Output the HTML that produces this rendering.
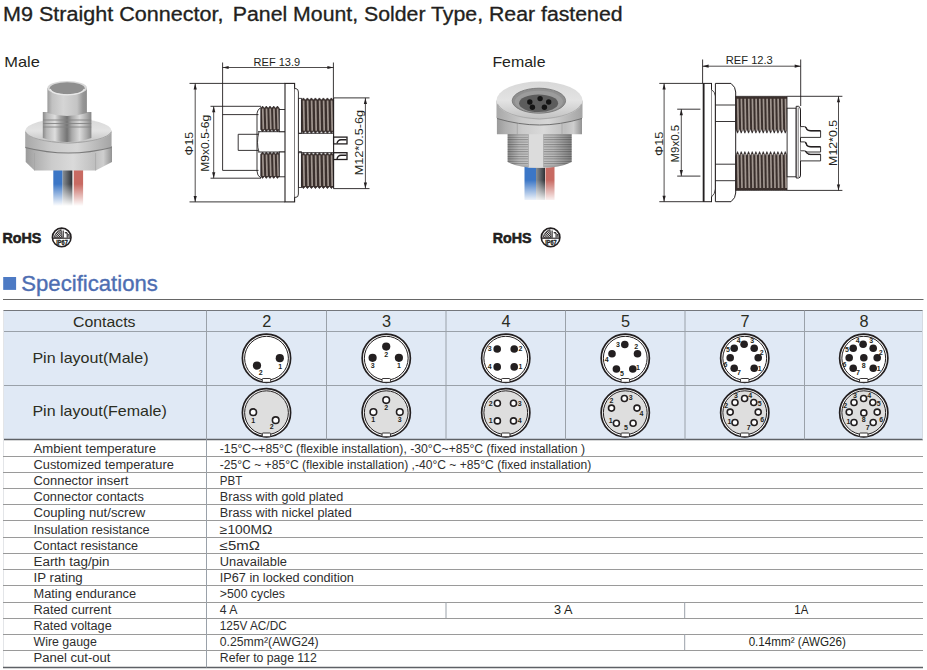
<!DOCTYPE html>
<html><head><meta charset="utf-8"><title>M9 Straight Connector</title>
<style>
html,body{margin:0;padding:0;background:#fff;}
body{width:927px;height:670px;overflow:hidden;font-family:"Liberation Sans", sans-serif;}
svg{display:block;}
text{font-family:"Liberation Sans", sans-serif;}
</style></head><body>
<svg width="927" height="670" viewBox="0 0 927 670">
<text x="3.0" y="20.5" font-size="19.5" fill="#231f20" font-weight="normal" text-anchor="start" textLength="220.4" lengthAdjust="spacingAndGlyphs" stroke="#231f20" stroke-width="0.3">M9 Straight Connector,</text>
<text x="232.8" y="20.5" font-size="19.5" fill="#231f20" font-weight="normal" text-anchor="start" textLength="389.8" lengthAdjust="spacingAndGlyphs" stroke="#231f20" stroke-width="0.3">Panel Mount, Solder Type, Rear fastened</text>
<text x="4.3" y="66.8" font-size="14.8" fill="#231f20" font-weight="normal" text-anchor="start" textLength="35.6" lengthAdjust="spacingAndGlyphs" >Male</text>
<text x="492.4" y="66.8" font-size="14.8" fill="#231f20" font-weight="normal" text-anchor="start" textLength="53.1" lengthAdjust="spacingAndGlyphs" >Female</text>
<rect x="3.2" y="277" width="12.9" height="12.9" fill="#4d7ac4" stroke="none" stroke-width="1" />
<text x="21.3" y="290.6" font-size="21.6" fill="#4e6eb2" font-weight="normal" text-anchor="start" textLength="136.5" lengthAdjust="spacingAndGlyphs" stroke="#4e6eb2" stroke-width="0.35">Specifications</text>
<line x1="3" y1="299.5" x2="923.5" y2="299.5" stroke="#666666" stroke-width="1"/>
<rect x="3" y="310.5" width="920" height="129" fill="#e0e9f5" stroke="none" stroke-width="1" />
<line x1="3" y1="310.5" x2="923" y2="310.5" stroke="#74777c" stroke-width="1"/>
<line x1="3" y1="331.5" x2="923" y2="331.5" stroke="#9aa1a9" stroke-width="1"/>
<line x1="3" y1="385.5" x2="923" y2="385.5" stroke="#9aa1a9" stroke-width="1"/>
<line x1="3" y1="439.5" x2="923" y2="439.5" stroke="#5e6166" stroke-width="1.3"/>
<line x1="206.5" y1="310.5" x2="206.5" y2="439.5" stroke="#9aa1a9" stroke-width="1"/>
<line x1="326.5" y1="310.5" x2="326.5" y2="439.5" stroke="#9aa1a9" stroke-width="1"/>
<line x1="446" y1="310.5" x2="446" y2="439.5" stroke="#9aa1a9" stroke-width="1"/>
<line x1="565.5" y1="310.5" x2="565.5" y2="439.5" stroke="#9aa1a9" stroke-width="1"/>
<line x1="685" y1="310.5" x2="685" y2="439.5" stroke="#9aa1a9" stroke-width="1"/>
<line x1="804.5" y1="310.5" x2="804.5" y2="439.5" stroke="#9aa1a9" stroke-width="1"/>
<line x1="3.5" y1="310.5" x2="3.5" y2="667" stroke="#e3e5e8" stroke-width="1"/>
<line x1="922.5" y1="310.5" x2="922.5" y2="439.5" stroke="#d5dae2" stroke-width="1"/>
<text x="73.0" y="327.3" font-size="15.5" fill="#2b2d22" font-weight="normal" text-anchor="start" textLength="62.5" lengthAdjust="spacingAndGlyphs" >Contacts</text>
<text x="32.4" y="362.8" font-size="14.6" fill="#2b2d22" font-weight="normal" text-anchor="start" textLength="116.1" lengthAdjust="spacingAndGlyphs" >Pin layout(Male)</text>
<text x="32.4" y="416.2" font-size="14.6" fill="#2b2d22" font-weight="normal" text-anchor="start" textLength="134.4" lengthAdjust="spacingAndGlyphs" >Pin layout(Female)</text>
<text x="266.8" y="327.2" font-size="16.3" fill="#2b2d22" font-weight="normal" text-anchor="middle" >2</text>
<text x="386.6" y="327.2" font-size="16.3" fill="#2b2d22" font-weight="normal" text-anchor="middle" >3</text>
<text x="506.1" y="327.2" font-size="16.3" fill="#2b2d22" font-weight="normal" text-anchor="middle" >4</text>
<text x="625.5" y="327.2" font-size="16.3" fill="#2b2d22" font-weight="normal" text-anchor="middle" >5</text>
<text x="745.0" y="327.2" font-size="16.3" fill="#2b2d22" font-weight="normal" text-anchor="middle" >7</text>
<text x="864.0" y="327.2" font-size="16.3" fill="#2b2d22" font-weight="normal" text-anchor="middle" >8</text>
<line x1="3" y1="456.5" x2="923" y2="456.5" stroke="#9a9a9a" stroke-width="1"/>
<line x1="3" y1="472.5" x2="923" y2="472.5" stroke="#9a9a9a" stroke-width="1"/>
<line x1="3" y1="488.5" x2="923" y2="488.5" stroke="#9a9a9a" stroke-width="1"/>
<line x1="3" y1="504.5" x2="923" y2="504.5" stroke="#9a9a9a" stroke-width="1"/>
<line x1="3" y1="520.5" x2="923" y2="520.5" stroke="#9a9a9a" stroke-width="1"/>
<line x1="3" y1="537.5" x2="923" y2="537.5" stroke="#9a9a9a" stroke-width="1"/>
<line x1="3" y1="553.5" x2="923" y2="553.5" stroke="#9a9a9a" stroke-width="1"/>
<line x1="3" y1="569.5" x2="923" y2="569.5" stroke="#9a9a9a" stroke-width="1"/>
<line x1="3" y1="585.5" x2="923" y2="585.5" stroke="#9a9a9a" stroke-width="1"/>
<line x1="3" y1="602.5" x2="923" y2="602.5" stroke="#9a9a9a" stroke-width="1"/>
<line x1="3" y1="618.5" x2="923" y2="618.5" stroke="#9a9a9a" stroke-width="1"/>
<line x1="3" y1="634.5" x2="923" y2="634.5" stroke="#9a9a9a" stroke-width="1"/>
<line x1="3" y1="650.5" x2="923" y2="650.5" stroke="#9a9a9a" stroke-width="1"/>
<line x1="3" y1="667.5" x2="923" y2="667.5" stroke="#5e6166" stroke-width="1.3"/>
<line x1="206.5" y1="439.5" x2="206.5" y2="667.5" stroke="#9aa1a9" stroke-width="1"/>
<line x1="446" y1="602" x2="446" y2="618" stroke="#9aa1a9" stroke-width="1"/>
<line x1="684.7" y1="602" x2="684.7" y2="618" stroke="#9aa1a9" stroke-width="1"/>
<line x1="684.7" y1="634" x2="684.7" y2="650" stroke="#9aa1a9" stroke-width="1"/>
<text x="33.5" y="453.0" font-size="12.5" fill="#2e2e2e" font-weight="normal" text-anchor="start" textLength="122.5" lengthAdjust="spacingAndGlyphs" >Ambient temperature</text>
<text x="33.5" y="469.1" font-size="12.5" fill="#2e2e2e" font-weight="normal" text-anchor="start" textLength="140.3" lengthAdjust="spacingAndGlyphs" >Customized temperature</text>
<text x="33.5" y="485.2" font-size="12.5" fill="#2e2e2e" font-weight="normal" text-anchor="start" textLength="94.8" lengthAdjust="spacingAndGlyphs" >Connector insert</text>
<text x="33.5" y="501.3" font-size="12.5" fill="#2e2e2e" font-weight="normal" text-anchor="start" textLength="110.3" lengthAdjust="spacingAndGlyphs" >Connector contacts</text>
<text x="33.5" y="517.4" font-size="12.5" fill="#2e2e2e" font-weight="normal" text-anchor="start" textLength="111.7" lengthAdjust="spacingAndGlyphs" >Coupling nut/screw</text>
<text x="33.5" y="533.5" font-size="12.5" fill="#2e2e2e" font-weight="normal" text-anchor="start" textLength="116.2" lengthAdjust="spacingAndGlyphs" >Insulation resistance</text>
<text x="33.5" y="549.6" font-size="12.5" fill="#2e2e2e" font-weight="normal" text-anchor="start" textLength="104.5" lengthAdjust="spacingAndGlyphs" >Contact resistance</text>
<text x="33.5" y="565.7" font-size="12.5" fill="#2e2e2e" font-weight="normal" text-anchor="start" textLength="76.0" lengthAdjust="spacingAndGlyphs" >Earth tag/pin</text>
<text x="33.5" y="581.8" font-size="12.5" fill="#2e2e2e" font-weight="normal" text-anchor="start" textLength="49.2" lengthAdjust="spacingAndGlyphs" >IP rating</text>
<text x="33.5" y="597.9" font-size="12.5" fill="#2e2e2e" font-weight="normal" text-anchor="start" textLength="102.6" lengthAdjust="spacingAndGlyphs" >Mating endurance</text>
<text x="33.5" y="614.0" font-size="12.5" fill="#2e2e2e" font-weight="normal" text-anchor="start" textLength="77.7" lengthAdjust="spacingAndGlyphs" >Rated current</text>
<text x="33.5" y="630.1" font-size="12.5" fill="#2e2e2e" font-weight="normal" text-anchor="start" textLength="78.2" lengthAdjust="spacingAndGlyphs" >Rated voltage</text>
<text x="33.5" y="646.2" font-size="12.5" fill="#2e2e2e" font-weight="normal" text-anchor="start" textLength="63.3" lengthAdjust="spacingAndGlyphs" >Wire gauge</text>
<text x="33.5" y="662.3" font-size="12.5" fill="#2e2e2e" font-weight="normal" text-anchor="start" textLength="77.0" lengthAdjust="spacingAndGlyphs" >Panel cut-out</text>
<text x="219.8" y="453.0" font-size="12.5" fill="#2e2e2e" font-weight="normal" text-anchor="start" textLength="365.2" lengthAdjust="spacingAndGlyphs" >-15°C~+85°C (flexible installation), -30°C~+85°C (fixed installation )</text>
<text x="219.8" y="469.1" font-size="12.5" fill="#2e2e2e" font-weight="normal" text-anchor="start" textLength="371.5" lengthAdjust="spacingAndGlyphs" >-25°C ~ +85°C (flexible installation) ,-40°C ~ +85°C (fixed installation)</text>
<text x="219.8" y="485.2" font-size="12.5" fill="#2e2e2e" font-weight="normal" text-anchor="start" textLength="22.5" lengthAdjust="spacingAndGlyphs" >PBT</text>
<text x="219.8" y="501.3" font-size="12.5" fill="#2e2e2e" font-weight="normal" text-anchor="start" textLength="123.4" lengthAdjust="spacingAndGlyphs" >Brass with gold plated</text>
<text x="219.8" y="517.4" font-size="12.5" fill="#2e2e2e" font-weight="normal" text-anchor="start" textLength="132.1" lengthAdjust="spacingAndGlyphs" >Brass with nickel plated</text>
<text x="219.8" y="533.5" font-size="12.5" fill="#2e2e2e" font-weight="normal" text-anchor="start" textLength="52.5" lengthAdjust="spacingAndGlyphs" >≥100MΩ</text>
<text x="219.8" y="549.6" font-size="12.5" fill="#2e2e2e" font-weight="normal" text-anchor="start" textLength="40.0" lengthAdjust="spacingAndGlyphs" >≤5mΩ</text>
<text x="219.8" y="565.7" font-size="12.5" fill="#2e2e2e" font-weight="normal" text-anchor="start" textLength="67.1" lengthAdjust="spacingAndGlyphs" >Unavailable</text>
<text x="219.8" y="581.8" font-size="12.5" fill="#2e2e2e" font-weight="normal" text-anchor="start" textLength="134.1" lengthAdjust="spacingAndGlyphs" >IP67 in locked condition</text>
<text x="219.8" y="597.9" font-size="12.5" fill="#2e2e2e" font-weight="normal" text-anchor="start" textLength="65.2" lengthAdjust="spacingAndGlyphs" >&gt;500 cycles</text>
<text x="219.8" y="614.0" font-size="12.5" fill="#2e2e2e" font-weight="normal" text-anchor="start" textLength="17.7" lengthAdjust="spacingAndGlyphs" >4 A</text>
<text x="219.8" y="630.1" font-size="12.5" fill="#2e2e2e" font-weight="normal" text-anchor="start" textLength="66.9" lengthAdjust="spacingAndGlyphs" >125V AC/DC</text>
<text x="219.8" y="646.2" font-size="12.5" fill="#2e2e2e" font-weight="normal" text-anchor="start" textLength="98.8" lengthAdjust="spacingAndGlyphs" >0.25mm²(AWG24)</text>
<text x="219.8" y="662.3" font-size="12.5" fill="#2e2e2e" font-weight="normal" text-anchor="start" textLength="97.1" lengthAdjust="spacingAndGlyphs" >Refer to page 112</text>
<text x="563.2" y="614.0" font-size="12.5" fill="#231f20" font-weight="normal" text-anchor="middle" textLength="18.4" lengthAdjust="spacingAndGlyphs" >3 A</text>
<text x="801.3" y="614.0" font-size="12.5" fill="#231f20" font-weight="normal" text-anchor="middle" textLength="13.9" lengthAdjust="spacingAndGlyphs" >1A</text>
<text x="797.3" y="646.2" font-size="12.5" fill="#231f20" font-weight="normal" text-anchor="middle" textLength="97.3" lengthAdjust="spacingAndGlyphs" >0.14mm² (AWG26)</text>
<circle cx="266.5" cy="358.2" r="24.1" fill="#fff" stroke="#231f20" stroke-width="1.7"/>
<circle cx="266.5" cy="358.2" r="21.9" fill="#fff" stroke="#231f20" stroke-width="1"/>
<rect x="262.3" y="378.5" width="8.4" height="3.8" rx="0.8" fill="#fff" stroke="#231f20" stroke-width="0.9"/>
<circle cx="279.8" cy="358.2" r="4.1" fill="#231f20"/>
<text x="280.2" y="368.7" font-size="7" font-weight="bold" fill="#231f20" text-anchor="middle">1</text>
<circle cx="257.0" cy="365.6" r="4.1" fill="#231f20"/>
<text x="260.7" y="374.9" font-size="7" font-weight="bold" fill="#231f20" text-anchor="middle">2</text>
<circle cx="266.5" cy="412.7" r="24.1" fill="#fff" stroke="#231f20" stroke-width="1.7"/>
<circle cx="266.5" cy="412.7" r="21.9" fill="#dedede" stroke="#231f20" stroke-width="1"/>
<rect x="262.3" y="433.0" width="8.4" height="3.8" rx="0.8" fill="#fff" stroke="#231f20" stroke-width="0.9"/>
<circle cx="253.2" cy="412.2" r="3.30" fill="#fff" stroke="#231f20" stroke-width="1.6"/>
<text x="253.2" y="422.9" font-size="7" font-weight="bold" fill="#231f20" text-anchor="middle">1</text>
<circle cx="275.7" cy="420.2" r="3.30" fill="#fff" stroke="#231f20" stroke-width="1.6"/>
<text x="271.7" y="429.0" font-size="7" font-weight="bold" fill="#231f20" text-anchor="middle">2</text>
<circle cx="386.25" cy="358.2" r="24.1" fill="#fff" stroke="#231f20" stroke-width="1.7"/>
<circle cx="386.25" cy="358.2" r="21.9" fill="#fff" stroke="#231f20" stroke-width="1"/>
<rect x="382.05" y="378.5" width="8.4" height="3.8" rx="0.8" fill="#fff" stroke="#231f20" stroke-width="0.9"/>
<circle cx="386.2" cy="346.6" r="4.1" fill="#231f20"/>
<text x="386.2" y="356.9" font-size="7" font-weight="bold" fill="#231f20" text-anchor="middle">2</text>
<circle cx="372.6" cy="357.8" r="4.1" fill="#231f20"/>
<text x="372.6" y="368.1" font-size="7" font-weight="bold" fill="#231f20" text-anchor="middle">3</text>
<circle cx="398.9" cy="357.8" r="4.1" fill="#231f20"/>
<text x="398.9" y="368.1" font-size="7" font-weight="bold" fill="#231f20" text-anchor="middle">1</text>
<circle cx="386.25" cy="412.7" r="24.1" fill="#fff" stroke="#231f20" stroke-width="1.7"/>
<circle cx="386.25" cy="412.7" r="21.9" fill="#dedede" stroke="#231f20" stroke-width="1"/>
<rect x="382.05" y="433.0" width="8.4" height="3.8" rx="0.8" fill="#fff" stroke="#231f20" stroke-width="0.9"/>
<circle cx="386.2" cy="400.1" r="3.30" fill="#fff" stroke="#231f20" stroke-width="1.6"/>
<text x="386.2" y="410.3" font-size="7" font-weight="bold" fill="#231f20" text-anchor="middle">2</text>
<circle cx="373.4" cy="412.1" r="3.30" fill="#fff" stroke="#231f20" stroke-width="1.6"/>
<text x="373.2" y="422.3" font-size="7" font-weight="bold" fill="#231f20" text-anchor="middle">1</text>
<circle cx="399.8" cy="412.1" r="3.30" fill="#fff" stroke="#231f20" stroke-width="1.6"/>
<text x="399.8" y="422.3" font-size="7" font-weight="bold" fill="#231f20" text-anchor="middle">3</text>
<circle cx="505.75" cy="358.2" r="24.1" fill="#fff" stroke="#231f20" stroke-width="1.7"/>
<circle cx="505.75" cy="358.2" r="21.9" fill="#fff" stroke="#231f20" stroke-width="1"/>
<rect x="501.55" y="378.5" width="8.4" height="3.8" rx="0.8" fill="#fff" stroke="#231f20" stroke-width="0.9"/>
<circle cx="497.2" cy="349.0" r="3.8" fill="#231f20"/>
<text x="489.8" y="351.3" font-size="7" font-weight="bold" fill="#231f20" text-anchor="middle">3</text>
<circle cx="514.2" cy="349.0" r="3.8" fill="#231f20"/>
<text x="520.4" y="351.3" font-size="7" font-weight="bold" fill="#231f20" text-anchor="middle">2</text>
<circle cx="497.2" cy="366.9" r="3.8" fill="#231f20"/>
<text x="489.8" y="369.2" font-size="7" font-weight="bold" fill="#231f20" text-anchor="middle">4</text>
<circle cx="514.2" cy="366.9" r="3.8" fill="#231f20"/>
<text x="520.4" y="369.2" font-size="7" font-weight="bold" fill="#231f20" text-anchor="middle">1</text>
<circle cx="505.75" cy="412.7" r="24.1" fill="#fff" stroke="#231f20" stroke-width="1.7"/>
<circle cx="505.75" cy="412.7" r="21.9" fill="#dedede" stroke="#231f20" stroke-width="1"/>
<rect x="501.55" y="433.0" width="8.4" height="3.8" rx="0.8" fill="#fff" stroke="#231f20" stroke-width="0.9"/>
<circle cx="497.4" cy="403.3" r="3.00" fill="#fff" stroke="#231f20" stroke-width="1.6"/>
<text x="490.8" y="405.6" font-size="7" font-weight="bold" fill="#231f20" text-anchor="middle">2</text>
<circle cx="513.5" cy="403.3" r="3.00" fill="#fff" stroke="#231f20" stroke-width="1.6"/>
<text x="519.8" y="405.6" font-size="7" font-weight="bold" fill="#231f20" text-anchor="middle">3</text>
<circle cx="497.4" cy="420.9" r="3.00" fill="#fff" stroke="#231f20" stroke-width="1.6"/>
<text x="490.8" y="423.2" font-size="7" font-weight="bold" fill="#231f20" text-anchor="middle">1</text>
<circle cx="513.5" cy="420.9" r="3.00" fill="#fff" stroke="#231f20" stroke-width="1.6"/>
<text x="519.8" y="423.2" font-size="7" font-weight="bold" fill="#231f20" text-anchor="middle">4</text>
<circle cx="625.25" cy="358.2" r="24.1" fill="#fff" stroke="#231f20" stroke-width="1.7"/>
<circle cx="625.25" cy="358.2" r="21.9" fill="#fff" stroke="#231f20" stroke-width="1"/>
<rect x="621.05" y="378.5" width="8.4" height="3.8" rx="0.8" fill="#fff" stroke="#231f20" stroke-width="0.9"/>
<circle cx="624.8" cy="344.5" r="3.8" fill="#231f20"/>
<text x="618.0" y="346.8" font-size="7" font-weight="bold" fill="#231f20" text-anchor="middle">3</text>
<circle cx="637.5" cy="353.8" r="3.8" fill="#231f20"/>
<text x="636.2" y="348.9" font-size="7" font-weight="bold" fill="#231f20" text-anchor="middle">2</text>
<circle cx="612.0" cy="353.8" r="3.8" fill="#231f20"/>
<text x="606.8" y="361.7" font-size="7" font-weight="bold" fill="#231f20" text-anchor="middle">4</text>
<circle cx="616.4" cy="369.0" r="3.8" fill="#231f20"/>
<text x="622.0" y="376.1" font-size="7" font-weight="bold" fill="#231f20" text-anchor="middle">5</text>
<circle cx="632.8" cy="369.0" r="3.8" fill="#231f20"/>
<text x="638.0" y="369.7" font-size="7" font-weight="bold" fill="#231f20" text-anchor="middle">1</text>
<circle cx="625.25" cy="412.7" r="24.1" fill="#fff" stroke="#231f20" stroke-width="1.7"/>
<circle cx="625.25" cy="412.7" r="21.9" fill="#dedede" stroke="#231f20" stroke-width="1"/>
<rect x="621.05" y="433.0" width="8.4" height="3.8" rx="0.8" fill="#fff" stroke="#231f20" stroke-width="0.9"/>
<circle cx="624.4" cy="398.5" r="3.00" fill="#fff" stroke="#231f20" stroke-width="1.6"/>
<text x="630.8" y="400.0" font-size="7" font-weight="bold" fill="#231f20" text-anchor="middle">3</text>
<circle cx="611.5" cy="408.1" r="3.00" fill="#fff" stroke="#231f20" stroke-width="1.6"/>
<text x="611.5" y="403.3" font-size="7" font-weight="bold" fill="#231f20" text-anchor="middle">2</text>
<circle cx="637.0" cy="408.1" r="3.00" fill="#fff" stroke="#231f20" stroke-width="1.6"/>
<text x="641.5" y="416.0" font-size="7" font-weight="bold" fill="#231f20" text-anchor="middle">4</text>
<circle cx="616.4" cy="423.3" r="3.00" fill="#fff" stroke="#231f20" stroke-width="1.6"/>
<text x="610.8" y="423.2" font-size="7" font-weight="bold" fill="#231f20" text-anchor="middle">1</text>
<circle cx="633.1" cy="423.3" r="3.00" fill="#fff" stroke="#231f20" stroke-width="1.6"/>
<text x="626.0" y="429.6" font-size="7" font-weight="bold" fill="#231f20" text-anchor="middle">5</text>
<circle cx="744.75" cy="358.2" r="24.1" fill="#fff" stroke="#231f20" stroke-width="1.7"/>
<circle cx="744.75" cy="358.2" r="21.9" fill="#fff" stroke="#231f20" stroke-width="1"/>
<rect x="740.55" y="378.5" width="8.4" height="3.8" rx="0.8" fill="#fff" stroke="#231f20" stroke-width="0.9"/>
<circle cx="744.1" cy="344.2" r="3.8" fill="#231f20"/>
<text x="738.6" y="343.3" font-size="7" font-weight="bold" fill="#231f20" text-anchor="middle">4</text>
<circle cx="754.2" cy="348.2" r="3.8" fill="#231f20"/>
<text x="752.1" y="343.3" font-size="7" font-weight="bold" fill="#231f20" text-anchor="middle">3</text>
<circle cx="734.2" cy="348.2" r="3.8" fill="#231f20"/>
<text x="727.9" y="352.1" font-size="7" font-weight="bold" fill="#231f20" text-anchor="middle">5</text>
<circle cx="758.2" cy="357.8" r="3.8" fill="#231f20"/>
<text x="761.8" y="354.5" font-size="7" font-weight="bold" fill="#231f20" text-anchor="middle">2</text>
<circle cx="730.2" cy="357.8" r="3.8" fill="#231f20"/>
<text x="725.5" y="367.3" font-size="7" font-weight="bold" fill="#231f20" text-anchor="middle">6</text>
<circle cx="734.2" cy="368.2" r="3.8" fill="#231f20"/>
<text x="739.0" y="375.3" font-size="7" font-weight="bold" fill="#231f20" text-anchor="middle">7</text>
<circle cx="754.2" cy="368.2" r="3.8" fill="#231f20"/>
<text x="759.8" y="371.3" font-size="7" font-weight="bold" fill="#231f20" text-anchor="middle">1</text>
<circle cx="744.75" cy="412.7" r="24.1" fill="#fff" stroke="#231f20" stroke-width="1.7"/>
<circle cx="744.75" cy="412.7" r="21.9" fill="#dedede" stroke="#231f20" stroke-width="1"/>
<rect x="740.55" y="433.0" width="8.4" height="3.8" rx="0.8" fill="#fff" stroke="#231f20" stroke-width="0.9"/>
<circle cx="744.6" cy="398.5" r="3.00" fill="#fff" stroke="#231f20" stroke-width="1.6"/>
<text x="750.2" y="397.6" font-size="7" font-weight="bold" fill="#231f20" text-anchor="middle">4</text>
<circle cx="735.0" cy="402.5" r="3.00" fill="#fff" stroke="#231f20" stroke-width="1.6"/>
<text x="735.9" y="397.6" font-size="7" font-weight="bold" fill="#231f20" text-anchor="middle">3</text>
<circle cx="753.8" cy="402.5" r="3.00" fill="#fff" stroke="#231f20" stroke-width="1.6"/>
<text x="759.8" y="405.6" font-size="7" font-weight="bold" fill="#231f20" text-anchor="middle">5</text>
<circle cx="730.2" cy="412.1" r="3.00" fill="#fff" stroke="#231f20" stroke-width="1.6"/>
<text x="726.2" y="408.0" font-size="7" font-weight="bold" fill="#231f20" text-anchor="middle">2</text>
<circle cx="758.2" cy="412.1" r="3.00" fill="#fff" stroke="#231f20" stroke-width="1.6"/>
<text x="762.2" y="421.6" font-size="7" font-weight="bold" fill="#231f20" text-anchor="middle">6</text>
<circle cx="735.0" cy="422.5" r="3.00" fill="#fff" stroke="#231f20" stroke-width="1.6"/>
<text x="729.5" y="424.0" font-size="7" font-weight="bold" fill="#231f20" text-anchor="middle">1</text>
<circle cx="754.2" cy="422.5" r="3.00" fill="#fff" stroke="#231f20" stroke-width="1.6"/>
<text x="748.6" y="430.3" font-size="7" font-weight="bold" fill="#231f20" text-anchor="middle">7</text>
<circle cx="863.75" cy="358.2" r="24.1" fill="#fff" stroke="#231f20" stroke-width="1.7"/>
<circle cx="863.75" cy="358.2" r="21.9" fill="#fff" stroke="#231f20" stroke-width="1"/>
<rect x="859.55" y="378.5" width="8.4" height="3.8" rx="0.8" fill="#fff" stroke="#231f20" stroke-width="0.9"/>
<circle cx="863.1" cy="344.2" r="3.8" fill="#231f20"/>
<text x="857.6" y="343.3" font-size="7" font-weight="bold" fill="#231f20" text-anchor="middle">4</text>
<circle cx="873.2" cy="348.2" r="3.8" fill="#231f20"/>
<text x="871.1" y="343.3" font-size="7" font-weight="bold" fill="#231f20" text-anchor="middle">3</text>
<circle cx="853.2" cy="348.2" r="3.8" fill="#231f20"/>
<text x="846.9" y="352.1" font-size="7" font-weight="bold" fill="#231f20" text-anchor="middle">5</text>
<circle cx="877.2" cy="357.8" r="3.8" fill="#231f20"/>
<text x="880.8" y="354.5" font-size="7" font-weight="bold" fill="#231f20" text-anchor="middle">2</text>
<circle cx="849.2" cy="357.8" r="3.8" fill="#231f20"/>
<text x="844.5" y="367.3" font-size="7" font-weight="bold" fill="#231f20" text-anchor="middle">6</text>
<circle cx="853.2" cy="368.2" r="3.8" fill="#231f20"/>
<text x="858.0" y="375.3" font-size="7" font-weight="bold" fill="#231f20" text-anchor="middle">7</text>
<circle cx="873.2" cy="368.2" r="3.8" fill="#231f20"/>
<text x="878.8" y="371.3" font-size="7" font-weight="bold" fill="#231f20" text-anchor="middle">1</text>
<circle cx="863.8" cy="357.8" r="3.8" fill="#231f20"/>
<text x="863.8" y="368.1" font-size="7" font-weight="bold" fill="#231f20" text-anchor="middle">8</text>
<circle cx="863.75" cy="412.7" r="24.1" fill="#fff" stroke="#231f20" stroke-width="1.7"/>
<circle cx="863.75" cy="412.7" r="21.9" fill="#dedede" stroke="#231f20" stroke-width="1"/>
<rect x="859.55" y="433.0" width="8.4" height="3.8" rx="0.8" fill="#fff" stroke="#231f20" stroke-width="0.9"/>
<circle cx="863.6" cy="398.5" r="3.00" fill="#fff" stroke="#231f20" stroke-width="1.6"/>
<text x="869.2" y="397.6" font-size="7" font-weight="bold" fill="#231f20" text-anchor="middle">4</text>
<circle cx="854.0" cy="402.5" r="3.00" fill="#fff" stroke="#231f20" stroke-width="1.6"/>
<text x="854.9" y="397.6" font-size="7" font-weight="bold" fill="#231f20" text-anchor="middle">3</text>
<circle cx="872.8" cy="402.5" r="3.00" fill="#fff" stroke="#231f20" stroke-width="1.6"/>
<text x="878.8" y="405.6" font-size="7" font-weight="bold" fill="#231f20" text-anchor="middle">5</text>
<circle cx="849.2" cy="412.1" r="3.00" fill="#fff" stroke="#231f20" stroke-width="1.6"/>
<text x="845.2" y="408.0" font-size="7" font-weight="bold" fill="#231f20" text-anchor="middle">2</text>
<circle cx="877.2" cy="412.1" r="3.00" fill="#fff" stroke="#231f20" stroke-width="1.6"/>
<text x="881.2" y="421.6" font-size="7" font-weight="bold" fill="#231f20" text-anchor="middle">6</text>
<circle cx="854.0" cy="422.5" r="3.00" fill="#fff" stroke="#231f20" stroke-width="1.6"/>
<text x="848.5" y="424.0" font-size="7" font-weight="bold" fill="#231f20" text-anchor="middle">1</text>
<circle cx="873.2" cy="422.5" r="3.00" fill="#fff" stroke="#231f20" stroke-width="1.6"/>
<text x="867.6" y="430.3" font-size="7" font-weight="bold" fill="#231f20" text-anchor="middle">7</text>
<circle cx="863.8" cy="412.9" r="3.00" fill="#fff" stroke="#231f20" stroke-width="1.6"/>
<text x="863.8" y="422.4" font-size="7" font-weight="bold" fill="#231f20" text-anchor="middle">8</text>
<defs>
<linearGradient id="metal" x1="0" x2="1" y1="0" y2="0">
<stop offset="0" stop-color="#8a8a8a"/><stop offset="0.08" stop-color="#b6b6b6"/><stop offset="0.25" stop-color="#dedede"/>
<stop offset="0.37" stop-color="#a0a0a0"/><stop offset="0.5" stop-color="#747474"/><stop offset="0.6" stop-color="#aaaaaa"/><stop offset="0.76" stop-color="#dadada"/><stop offset="0.9" stop-color="#acacac"/><stop offset="1" stop-color="#868686"/>
</linearGradient>
<linearGradient id="metal2" x1="0" x2="1" y1="0" y2="0">
<stop offset="0" stop-color="#9e9e9e"/><stop offset="0.2" stop-color="#d2d2d2"/><stop offset="0.45" stop-color="#eaeaea"/>
<stop offset="0.7" stop-color="#c8c8c8"/><stop offset="1" stop-color="#909090"/>
</linearGradient>
<linearGradient id="cyl" x1="0" x2="1" y1="0" y2="0">
<stop offset="0" stop-color="#9b9b9b"/><stop offset="0.12" stop-color="#c1c1c1"/><stop offset="0.4" stop-color="#d5d5d5"/>
<stop offset="0.75" stop-color="#c4c4c4"/><stop offset="0.9" stop-color="#969696"/><stop offset="1" stop-color="#8c8c8c"/>
</linearGradient>
<linearGradient id="thr" x1="0" x2="1" y1="0" y2="0">
<stop offset="0" stop-color="#8c8c8c"/><stop offset="0.18" stop-color="#bdbdbd"/><stop offset="0.45" stop-color="#cfcfcf"/>
<stop offset="0.72" stop-color="#b9b9b9"/><stop offset="1" stop-color="#828282"/>
</linearGradient>
<linearGradient id="nut" x1="0" x2="1" y1="0" y2="0">
<stop offset="0" stop-color="#9a9a9a"/><stop offset="0.1" stop-color="#afafaf"/><stop offset="0.3" stop-color="#cbcbcb"/>
<stop offset="0.55" stop-color="#dadada"/><stop offset="0.8" stop-color="#bfbfbf"/><stop offset="0.9" stop-color="#cecece"/><stop offset="1" stop-color="#929292"/>
</linearGradient>
<linearGradient id="rim" x1="0" x2="1" y1="0" y2="0">
<stop offset="0" stop-color="#a8a8a8"/><stop offset="0.3" stop-color="#cacaca"/><stop offset="0.6" stop-color="#d6d6d6"/>
<stop offset="1" stop-color="#a4a4a4"/>
</linearGradient>
<linearGradient id="face" x1="0" x2="0" y1="0" y2="1">
<stop offset="0" stop-color="#d8d8d8"/><stop offset="0.5" stop-color="#e3e3e3"/><stop offset="1" stop-color="#c1c1c1"/>
</linearGradient>
<radialGradient id="insert" cx="0.5" cy="0.5" r="0.6">
<stop offset="0" stop-color="#4a4a4a"/><stop offset="1" stop-color="#2e2e2e"/>
</radialGradient>
<linearGradient id="dwire" x1="0" x2="1" y1="0" y2="0">
<stop offset="0" stop-color="#8a9096"/><stop offset="0.5" stop-color="#5d6166"/><stop offset="1" stop-color="#2f3236"/>
</linearGradient>
<linearGradient id="fade" x1="0" x2="0" y1="0" y2="1">
<stop offset="0" stop-color="#fff" stop-opacity="0"/><stop offset="1" stop-color="#fff" stop-opacity="1"/>
</linearGradient>
<pattern id="hatch" width="1.6" height="1.6" patternUnits="userSpaceOnUse" patternTransform="rotate(45)">
<rect width="1.6" height="0.9" fill="#231f20"/>
</pattern>
<pattern id="hthread" width="4" height="2.4" patternUnits="userSpaceOnUse">
<rect width="4" height="1.0" fill="#000" fill-opacity="0.28"/>
</pattern>
</defs>
<rect x="53.3" y="166" width="9.3" height="40" fill="#3b76c6" stroke="none" stroke-width="1" />
<rect x="62.6" y="166" width="9.8" height="40" fill="url(#dwire)" stroke="none" stroke-width="1" />
<rect x="73.7" y="166" width="9.4" height="40" fill="#c86a62" stroke="none" stroke-width="1" />
<rect x="51" y="184" width="35" height="22" fill="url(#fade)" stroke="none" stroke-width="1" />
<path d="M25.7 146 L112 146 L112 162 L95.6 170.5 L34.5 170.5 L25.7 162 Z" fill="url(#nut)"/>
<path d="M34.5 153 L34.5 170.5 M95.6 153 L95.6 170.5" stroke="#a4a4a4" stroke-width="0.7"/>
<path d="M25.2 130.8 L111.6 130.8 L111.6 147 Q90 153 68.4 153 Q47 153 25.2 147 Z" fill="url(#rim)"/>
<path d="M25.2 147.5 Q47 153 68.4 153 Q90 153 111.6 147.5" fill="none" stroke="#7a7a7a" stroke-width="1.2"/>
<ellipse cx="68.4" cy="130.8" rx="43.2" ry="12.4" fill="url(#face)"/>
<path d="M25.6 132 Q30 141 68.4 143.2 Q106 141 111.2 132" fill="none" stroke="#9a9a9a" stroke-width="0.8"/>
<path d="M42.8 112 L91.4 112 L91.4 138 Q80 142 67 142 Q54 142 42.8 138 Z" fill="url(#metal)"/>
<line x1="43" y1="120" x2="91.2" y2="120" stroke="#858585" stroke-width="0.9"/>
<line x1="43" y1="123.5" x2="91.2" y2="123.5" stroke="#858585" stroke-width="0.9"/>
<line x1="43" y1="127" x2="91.2" y2="127" stroke="#858585" stroke-width="0.9"/>
<path d="M47.4 88 L86.9 88 L86.9 113 Q77 116 67 116 Q57 116 47.4 113 Z" fill="url(#cyl)"/>
<ellipse cx="67.2" cy="88" rx="19.8" ry="7" fill="#d8d8d8"/>
<ellipse cx="67.2" cy="88.3" rx="17.5" ry="6" fill="#8f8f8f"/>
<path d="M50 89 Q52 94.5 67.2 94.8 Q82 94.5 84.5 89" fill="none" stroke="#e8e8e8" stroke-width="1.2"/>
<rect x="524.5" y="163" width="11.5" height="37" fill="#3b76c6" stroke="none" stroke-width="1" />
<rect x="536" y="163" width="9" height="37" fill="url(#dwire)" stroke="none" stroke-width="1" />
<rect x="545.5" y="163" width="9" height="37" fill="#c86a62" stroke="none" stroke-width="1" />
<rect x="522" y="180" width="35" height="22" fill="url(#fade)" stroke="none" stroke-width="1" />
<path d="M507.6 132 L571.7 132 L571.7 162 Q560 168 539.6 168 Q519 168 507.6 162 Z" fill="url(#thr)"/>
<path d="M507.6 132 L571.7 132 L571.7 162 Q560 168 539.6 168 Q519 168 507.6 162 Z" fill="url(#hthread)"/>
<path d="M528.5 132 L543.5 132 L543.5 167.5 L528.5 167.5 Z" fill="#dcdcdc"/>
<path d="M528.5 132 L528.5 167 M543.5 132 L543.5 167" stroke="#a8a8a8" stroke-width="0.7"/>
<path d="M496.9 116 L582 116 L582 134.3 L496.9 134.3 Z" fill="url(#nut)"/>
<path d="M517.3 124 L517.3 134.3 M562 124 L562 134.3" stroke="#a0a0a0" stroke-width="0.7"/>
<path d="M496.5 100.5 L582.5 100.5 L582.5 118 Q560 125 539.5 125 Q519 125 496.5 118 Z" fill="url(#rim)"/>
<path d="M497 118.5 Q519 125 539.5 125 Q560 125 582 118.5" fill="none" stroke="#6f6f6f" stroke-width="1"/>
<ellipse cx="539.5" cy="100.5" rx="43" ry="19" fill="url(#face)"/>
<path d="M497.5 104 Q505 117 539.5 119 Q574 117 581.5 104" fill="none" stroke="#a0a0a0" stroke-width="0.7"/>
<ellipse cx="538.9" cy="100.7" rx="26.7" ry="12.5" fill="#8f8f8f" stroke="#6e6e6e" stroke-width="0.8"/>
<ellipse cx="538.9" cy="101.6" rx="24" ry="10.9" fill="#9c9c9c"/>
<ellipse cx="538.6" cy="103.2" rx="19.5" ry="8.8" fill="#5c5c5c"/>
<circle cx="540.1" cy="98.6" r="2.7" fill="#141414"/>
<circle cx="529.8" cy="102" r="2.7" fill="#141414"/>
<circle cx="548.7" cy="102" r="2.7" fill="#141414"/>
<circle cx="532.4" cy="107.2" r="2.7" fill="#141414"/>
<circle cx="544.4" cy="107.2" r="2.7" fill="#141414"/>
<line x1="222.6" y1="67.5" x2="333.4" y2="67.5" stroke="#231f20" stroke-width="0.8"/>
<path d="M222.6 67.5 L228.6 65.9 L228.6 69.1 Z" fill="#231f20"/>
<path d="M333.4 67.5 L327.4 65.9 L327.4 69.1 Z" fill="#231f20"/>
<line x1="222.6" y1="62.5" x2="222.6" y2="170.4" stroke="#231f20" stroke-width="0.9"/>
<line x1="333.4" y1="62.5" x2="333.4" y2="97.9" stroke="#231f20" stroke-width="0.9"/>
<text x="253.6" y="65.9" font-size="11.5" fill="#231f20" font-weight="normal" text-anchor="start" textLength="46.6" lengthAdjust="spacingAndGlyphs" >REF 13.9</text>
<line x1="189.5" y1="83.4" x2="285" y2="83.4" stroke="#231f20" stroke-width="0.9"/>
<line x1="189.5" y1="201.9" x2="285" y2="201.9" stroke="#231f20" stroke-width="0.9"/>
<line x1="195.2" y1="83.4" x2="195.2" y2="201.9" stroke="#231f20" stroke-width="0.8"/>
<path d="M195.2 83.4 L193.6 89.4 L196.79999999999998 89.4 Z" fill="#231f20"/>
<path d="M195.2 201.9 L193.6 195.9 L196.79999999999998 195.9 Z" fill="#231f20"/>
<text transform="translate(193.0,143.6) rotate(-90)" x="0" y="0" font-size="11" fill="#231f20" text-anchor="middle" textLength="23.6" lengthAdjust="spacingAndGlyphs">Φ15</text>
<line x1="210.5" y1="106.3" x2="261" y2="106.3" stroke="#231f20" stroke-width="0.9"/>
<line x1="210.5" y1="178.2" x2="261" y2="178.2" stroke="#231f20" stroke-width="0.9"/>
<line x1="213.7" y1="106.3" x2="213.7" y2="178.2" stroke="#231f20" stroke-width="0.8"/>
<path d="M213.7 106.3 L212.1 112.3 L215.29999999999998 112.3 Z" fill="#231f20"/>
<path d="M213.7 178.2 L212.1 172.2 L215.29999999999998 172.2 Z" fill="#231f20"/>
<text transform="translate(208.8,143.2) rotate(-90)" x="0" y="0" font-size="11" fill="#231f20" text-anchor="middle" textLength="57.0" lengthAdjust="spacingAndGlyphs">M9x0.5-6g</text>
<line x1="222.6" y1="114.6" x2="258.5" y2="114.6" stroke="#231f20" stroke-width="0.9"/>
<line x1="222.6" y1="170.4" x2="258.5" y2="170.4" stroke="#231f20" stroke-width="0.9"/>
<path d="M258.5 134.3 L238.2 134.3 L238.2 150.4 L258.5 150.4" fill="none" stroke="#231f20" stroke-width="0.9"/>
<path d="M261 107.5 Q256.5 110 257 116 L257 171 Q257 176 261 178" fill="none" stroke="#231f20" stroke-width="0.9"/>
<path d="M259 131.7 Q256 143 259 152" fill="none" stroke="#231f20" stroke-width="0.8"/>
<line x1="258" y1="131.7" x2="285.4" y2="131.7" stroke="#231f20" stroke-width="0.9"/>
<line x1="258" y1="152" x2="285.4" y2="152" stroke="#231f20" stroke-width="0.9"/>
<path d="M260.70 108.30 L262.56 106.10 L264.42 108.30 L266.28 106.10 L268.14 108.30 L270.00 106.10 L271.86 108.30 L273.72 106.10 L275.58 108.30 L277.44 106.10 L279.30 108.30 L279.30 129.50 L277.44 131.70 L275.58 129.50 L273.72 131.70 L271.86 129.50 L270.00 131.70 L268.14 129.50 L266.28 131.70 L264.42 129.50 L262.56 131.70 L260.70 129.50 Z" fill="#3b302d" stroke="#231f20" stroke-width="0.6"/>
<path d="M262.75 108.60 L263.35 129.20" stroke="#a0958f" stroke-width="1.7"/>
<path d="M266.47 108.60 L267.07 129.20" stroke="#a0958f" stroke-width="1.7"/>
<path d="M270.19 108.60 L270.79 129.20" stroke="#a0958f" stroke-width="1.7"/>
<path d="M273.91 108.60 L274.51 129.20" stroke="#a0958f" stroke-width="1.7"/>
<path d="M277.63 108.60 L278.23 129.20" stroke="#a0958f" stroke-width="1.7"/>
<path d="M260.70 154.20 L262.56 152.00 L264.42 154.20 L266.28 152.00 L268.14 154.20 L270.00 152.00 L271.86 154.20 L273.72 152.00 L275.58 154.20 L277.44 152.00 L279.30 154.20 L279.30 176.20 L277.44 178.40 L275.58 176.20 L273.72 178.40 L271.86 176.20 L270.00 178.40 L268.14 176.20 L266.28 178.40 L264.42 176.20 L262.56 178.40 L260.70 176.20 Z" fill="#3b302d" stroke="#231f20" stroke-width="0.6"/>
<path d="M262.75 154.50 L263.35 175.90" stroke="#a0958f" stroke-width="1.7"/>
<path d="M266.47 154.50 L267.07 175.90" stroke="#a0958f" stroke-width="1.7"/>
<path d="M270.19 154.50 L270.79 175.90" stroke="#a0958f" stroke-width="1.7"/>
<path d="M273.91 154.50 L274.51 175.90" stroke="#a0958f" stroke-width="1.7"/>
<path d="M277.63 154.50 L278.23 175.90" stroke="#a0958f" stroke-width="1.7"/>
<rect x="279.3" y="109.5" width="6.1" height="22.2" fill="#fff" stroke="#231f20" stroke-width="0.9" />
<rect x="279.3" y="152" width="6.1" height="24.8" fill="#fff" stroke="#231f20" stroke-width="0.9" />
<rect x="285" y="83.4" width="9.6" height="118.5" fill="#fff" stroke="#231f20" stroke-width="1.1" />
<path d="M294.6 88.6 L296 88.6 Q298.4 89 298.4 92 L298.4 194 Q298.4 197.3 296 197.3 L294.6 197.3" fill="#fff" stroke="#231f20" stroke-width="0.9"/>
<rect x="298.6" y="98.3" width="2.8" height="35" fill="#fff" stroke="#231f20" stroke-width="0.8" />
<rect x="298.6" y="151.7" width="2.8" height="35.9" fill="#fff" stroke="#231f20" stroke-width="0.8" />
<line x1="298.4" y1="133.3" x2="333.4" y2="133.3" stroke="#231f20" stroke-width="0.9"/>
<line x1="298.4" y1="152.7" x2="333.4" y2="152.7" stroke="#231f20" stroke-width="0.9"/>
<path d="M301.40 100.10 L303.40 97.90 L305.40 100.10 L307.40 97.90 L309.40 100.10 L311.40 97.90 L313.40 100.10 L315.40 97.90 L317.40 100.10 L319.40 97.90 L321.40 100.10 L323.40 97.90 L325.40 100.10 L327.40 97.90 L329.40 100.10 L331.40 97.90 L333.40 100.10 L333.40 131.10 L331.40 133.30 L329.40 131.10 L327.40 133.30 L325.40 131.10 L323.40 133.30 L321.40 131.10 L319.40 133.30 L317.40 131.10 L315.40 133.30 L313.40 131.10 L311.40 133.30 L309.40 131.10 L307.40 133.30 L305.40 131.10 L303.40 133.30 L301.40 131.10 Z" fill="#3b302d" stroke="#231f20" stroke-width="0.6"/>
<path d="M303.60 100.40 L304.20 130.80" stroke="#a0958f" stroke-width="1.7"/>
<path d="M307.60 100.40 L308.20 130.80" stroke="#a0958f" stroke-width="1.7"/>
<path d="M311.60 100.40 L312.20 130.80" stroke="#a0958f" stroke-width="1.7"/>
<path d="M315.60 100.40 L316.20 130.80" stroke="#a0958f" stroke-width="1.7"/>
<path d="M319.60 100.40 L320.20 130.80" stroke="#a0958f" stroke-width="1.7"/>
<path d="M323.60 100.40 L324.20 130.80" stroke="#a0958f" stroke-width="1.7"/>
<path d="M327.60 100.40 L328.20 130.80" stroke="#a0958f" stroke-width="1.7"/>
<path d="M331.60 100.40 L332.20 130.80" stroke="#a0958f" stroke-width="1.7"/>
<path d="M301.40 154.90 L303.40 152.70 L305.40 154.90 L307.40 152.70 L309.40 154.90 L311.40 152.70 L313.40 154.90 L315.40 152.70 L317.40 154.90 L319.40 152.70 L321.40 154.90 L323.40 152.70 L325.40 154.90 L327.40 152.70 L329.40 154.90 L331.40 152.70 L333.40 154.90 L333.40 186.40 L331.40 188.60 L329.40 186.40 L327.40 188.60 L325.40 186.40 L323.40 188.60 L321.40 186.40 L319.40 188.60 L317.40 186.40 L315.40 188.60 L313.40 186.40 L311.40 188.60 L309.40 186.40 L307.40 188.60 L305.40 186.40 L303.40 188.60 L301.40 186.40 Z" fill="#3b302d" stroke="#231f20" stroke-width="0.6"/>
<path d="M303.60 155.20 L304.20 186.10" stroke="#a0958f" stroke-width="1.7"/>
<path d="M307.60 155.20 L308.20 186.10" stroke="#a0958f" stroke-width="1.7"/>
<path d="M311.60 155.20 L312.20 186.10" stroke="#a0958f" stroke-width="1.7"/>
<path d="M315.60 155.20 L316.20 186.10" stroke="#a0958f" stroke-width="1.7"/>
<path d="M319.60 155.20 L320.20 186.10" stroke="#a0958f" stroke-width="1.7"/>
<path d="M323.60 155.20 L324.20 186.10" stroke="#a0958f" stroke-width="1.7"/>
<path d="M327.60 155.20 L328.20 186.10" stroke="#a0958f" stroke-width="1.7"/>
<path d="M331.60 155.20 L332.20 186.10" stroke="#a0958f" stroke-width="1.7"/>
<line x1="333.6" y1="97.9" x2="333.6" y2="188.6" stroke="#231f20" stroke-width="1.1"/>
<rect x="333.6" y="137.1" width="13.4" height="6.8" fill="#fff" stroke="#231f20" stroke-width="1.3" />
<path d="M337 143.4 Q337.8 139.9 341 139.7 L346.5 139.7" fill="none" stroke="#231f20" stroke-width="1.4"/>
<rect x="333.6" y="152.7" width="13.4" height="6.8" fill="#fff" stroke="#231f20" stroke-width="1.3" />
<path d="M337 159.0 Q337.8 155.5 341 155.29999999999998 L346.5 155.29999999999998" fill="none" stroke="#231f20" stroke-width="1.4"/>
<line x1="333.4" y1="97.9" x2="369.5" y2="97.9" stroke="#231f20" stroke-width="0.9"/>
<line x1="333.4" y1="188.6" x2="369.5" y2="188.6" stroke="#231f20" stroke-width="0.9"/>
<line x1="365.4" y1="97.9" x2="365.4" y2="188.6" stroke="#231f20" stroke-width="0.8"/>
<path d="M365.4 97.9 L363.79999999999995 103.9 L367.0 103.9 Z" fill="#231f20"/>
<path d="M365.4 188.6 L363.79999999999995 182.6 L367.0 182.6 Z" fill="#231f20"/>
<text transform="translate(362.8,142.6) rotate(-90)" x="0" y="0" font-size="11.3" fill="#231f20" text-anchor="middle" textLength="65.5" lengthAdjust="spacingAndGlyphs">M12*0.5-6g</text>
<line x1="702.6" y1="66.2" x2="800.7" y2="66.2" stroke="#231f20" stroke-width="0.8"/>
<path d="M702.6 66.2 L708.6 64.60000000000001 L708.6 67.8 Z" fill="#231f20"/>
<path d="M800.7 66.2 L794.7 64.60000000000001 L794.7 67.8 Z" fill="#231f20"/>
<line x1="702.6" y1="59.5" x2="702.6" y2="83.4" stroke="#231f20" stroke-width="0.9"/>
<line x1="800.7" y1="59.5" x2="800.7" y2="106" stroke="#231f20" stroke-width="0.9"/>
<text x="725.8" y="63.9" font-size="11.5" fill="#231f20" font-weight="normal" text-anchor="start" textLength="47.0" lengthAdjust="spacingAndGlyphs" >REF 12.3</text>
<line x1="659.3" y1="83.4" x2="703" y2="83.4" stroke="#231f20" stroke-width="0.9"/>
<line x1="659.3" y1="201.7" x2="703" y2="201.7" stroke="#231f20" stroke-width="0.9"/>
<line x1="664.1" y1="83.4" x2="664.1" y2="201.7" stroke="#231f20" stroke-width="0.8"/>
<path d="M664.1 83.4 L662.5 89.4 L665.7 89.4 Z" fill="#231f20"/>
<path d="M664.1 201.7 L662.5 195.7 L665.7 195.7 Z" fill="#231f20"/>
<text transform="translate(662.6,143.8) rotate(-90)" x="0" y="0" font-size="11.2" fill="#231f20" text-anchor="middle" textLength="24.6" lengthAdjust="spacingAndGlyphs">Φ15</text>
<line x1="677.2" y1="109.2" x2="700.4" y2="109.2" stroke="#231f20" stroke-width="0.9"/>
<line x1="677.2" y1="176.1" x2="700.4" y2="176.1" stroke="#231f20" stroke-width="0.9"/>
<line x1="681.3" y1="109.2" x2="681.3" y2="176.1" stroke="#231f20" stroke-width="0.8"/>
<path d="M681.3 109.2 L679.6999999999999 115.2 L682.9 115.2 Z" fill="#231f20"/>
<path d="M681.3 176.1 L679.6999999999999 170.1 L682.9 170.1 Z" fill="#231f20"/>
<text transform="translate(678.5,143.7) rotate(-90)" x="0" y="0" font-size="11" fill="#231f20" text-anchor="middle" textLength="37.5" lengthAdjust="spacingAndGlyphs">M9x0.5</text>
<rect x="703.6" y="83.4" width="7.9" height="118.3" fill="#fff" stroke="#231f20" stroke-width="1.0" />
<line x1="703.6" y1="83.4" x2="703.6" y2="201.7" stroke="#231f20" stroke-width="1.8"/>
<path d="M711.5 89.5 Q715 92 715.4 96 L715.4 189 Q715 194 711.5 197" fill="#fff" stroke="#231f20" stroke-width="0.8"/>
<path d="M715.4 83.4 L731 83.4 Q735.7 87 735.7 92 L735.7 193 Q735.7 198 731 201.7 L715.4 201.7 Z" fill="#fff" stroke="#231f20" stroke-width="1.0"/>
<line x1="715.4" y1="105" x2="735.7" y2="105" stroke="#231f20" stroke-width="0.9"/>
<line x1="715.4" y1="121.5" x2="735.7" y2="121.5" stroke="#231f20" stroke-width="0.9"/>
<line x1="715.4" y1="164.2" x2="735.7" y2="164.2" stroke="#231f20" stroke-width="0.9"/>
<line x1="715.4" y1="180.7" x2="735.7" y2="180.7" stroke="#231f20" stroke-width="0.9"/>
<path d="M735.70 96.30 L737.54 96.30 L739.37 96.30 L741.21 96.30 L743.04 96.30 L744.88 96.30 L746.71 96.30 L748.55 96.30 L750.39 96.30 L752.22 96.30 L754.06 96.30 L755.89 96.30 L757.73 96.30 L759.56 96.30 L761.40 96.30 L763.24 96.30 L765.07 96.30 L766.91 96.30 L768.74 96.30 L770.58 96.30 L772.41 96.30 L774.25 96.30 L776.09 96.30 L777.92 96.30 L779.76 96.30 L781.59 96.30 L783.43 96.30 L785.26 96.30 L787.10 96.30 L787.10 128.70 L785.26 133.20 L783.43 128.70 L781.59 133.20 L779.76 128.70 L777.92 133.20 L776.09 128.70 L774.25 133.20 L772.41 128.70 L770.58 133.20 L768.74 128.70 L766.91 133.20 L765.07 128.70 L763.24 133.20 L761.40 128.70 L759.56 133.20 L757.73 128.70 L755.89 133.20 L754.06 128.70 L752.22 133.20 L750.39 128.70 L748.55 133.20 L746.71 128.70 L744.88 133.20 L743.04 128.70 L741.21 133.20 L739.37 128.70 L737.54 133.20 L735.70 128.70 Z" fill="#3b302d" stroke="#231f20" stroke-width="0.6"/>
<path d="M737.72 98.80 L738.32 130.70" stroke="#a0958f" stroke-width="1.7"/>
<path d="M741.39 98.80 L741.99 130.70" stroke="#a0958f" stroke-width="1.7"/>
<path d="M745.06 98.80 L745.66 130.70" stroke="#a0958f" stroke-width="1.7"/>
<path d="M748.73 98.80 L749.33 130.70" stroke="#a0958f" stroke-width="1.7"/>
<path d="M752.41 98.80 L753.01 130.70" stroke="#a0958f" stroke-width="1.7"/>
<path d="M756.08 98.80 L756.68 130.70" stroke="#a0958f" stroke-width="1.7"/>
<path d="M759.75 98.80 L760.35 130.70" stroke="#a0958f" stroke-width="1.7"/>
<path d="M763.42 98.80 L764.02 130.70" stroke="#a0958f" stroke-width="1.7"/>
<path d="M767.09 98.80 L767.69 130.70" stroke="#a0958f" stroke-width="1.7"/>
<path d="M770.76 98.80 L771.36 130.70" stroke="#a0958f" stroke-width="1.7"/>
<path d="M774.43 98.80 L775.03 130.70" stroke="#a0958f" stroke-width="1.7"/>
<path d="M778.11 98.80 L778.71 130.70" stroke="#a0958f" stroke-width="1.7"/>
<path d="M781.78 98.80 L782.38 130.70" stroke="#a0958f" stroke-width="1.7"/>
<path d="M785.45 98.80 L786.05 130.70" stroke="#a0958f" stroke-width="1.7"/>
<path d="M735.70 156.10 L737.54 151.60 L739.37 156.10 L741.21 151.60 L743.04 156.10 L744.88 151.60 L746.71 156.10 L748.55 151.60 L750.39 156.10 L752.22 151.60 L754.06 156.10 L755.89 151.60 L757.73 156.10 L759.56 151.60 L761.40 156.10 L763.24 151.60 L765.07 156.10 L766.91 151.60 L768.74 156.10 L770.58 151.60 L772.41 156.10 L774.25 151.60 L776.09 156.10 L777.92 151.60 L779.76 156.10 L781.59 151.60 L783.43 156.10 L785.26 151.60 L787.10 156.10 L787.10 190.40 L785.26 190.40 L783.43 190.40 L781.59 190.40 L779.76 190.40 L777.92 190.40 L776.09 190.40 L774.25 190.40 L772.41 190.40 L770.58 190.40 L768.74 190.40 L766.91 190.40 L765.07 190.40 L763.24 190.40 L761.40 190.40 L759.56 190.40 L757.73 190.40 L755.89 190.40 L754.06 190.40 L752.22 190.40 L750.39 190.40 L748.55 190.40 L746.71 190.40 L744.88 190.40 L743.04 190.40 L741.21 190.40 L739.37 190.40 L737.54 190.40 L735.70 190.40 Z" fill="#3b302d" stroke="#231f20" stroke-width="0.6"/>
<path d="M737.72 154.10 L738.32 187.90" stroke="#a0958f" stroke-width="1.7"/>
<path d="M741.39 154.10 L741.99 187.90" stroke="#a0958f" stroke-width="1.7"/>
<path d="M745.06 154.10 L745.66 187.90" stroke="#a0958f" stroke-width="1.7"/>
<path d="M748.73 154.10 L749.33 187.90" stroke="#a0958f" stroke-width="1.7"/>
<path d="M752.41 154.10 L753.01 187.90" stroke="#a0958f" stroke-width="1.7"/>
<path d="M756.08 154.10 L756.68 187.90" stroke="#a0958f" stroke-width="1.7"/>
<path d="M759.75 154.10 L760.35 187.90" stroke="#a0958f" stroke-width="1.7"/>
<path d="M763.42 154.10 L764.02 187.90" stroke="#a0958f" stroke-width="1.7"/>
<path d="M767.09 154.10 L767.69 187.90" stroke="#a0958f" stroke-width="1.7"/>
<path d="M770.76 154.10 L771.36 187.90" stroke="#a0958f" stroke-width="1.7"/>
<path d="M774.43 154.10 L775.03 187.90" stroke="#a0958f" stroke-width="1.7"/>
<path d="M778.11 154.10 L778.71 187.90" stroke="#a0958f" stroke-width="1.7"/>
<path d="M781.78 154.10 L782.38 187.90" stroke="#a0958f" stroke-width="1.7"/>
<path d="M785.45 154.10 L786.05 187.90" stroke="#a0958f" stroke-width="1.7"/>
<rect x="787.1" y="108.2" width="9.1" height="68.6" fill="#fff" stroke="#231f20" stroke-width="0.9" />
<path d="M796.2 106.3 L798.5 106.3 Q800.5 107 800.5 110 L800.5 175 Q800.5 178 798.5 178 L796.2 178 Z" fill="#fff" stroke="#231f20" stroke-width="1.0"/>
<line x1="798.2" y1="107.5" x2="798.2" y2="177" stroke="#231f20" stroke-width="0.6"/>
<path d="M800.5 126.6 L804.5 126.6 Q806 127.1 806.5 129 Q807.5 131 810.5 131 L820.6 131 L820.6 137.4 L800.5 137.4" fill="#fff" stroke="#231f20" stroke-width="0.9"/>
<path d="M805 126.89999999999999 Q806.6 127.6 807 129.5 Q808 130.7 811 130.7 L820.6 130.7" fill="none" stroke="#231f20" stroke-width="1.3"/>
<path d="M800.5 141.9 L804.5 141.9 Q806 142.4 806.5 145 Q807.5 147 810.5 147 L820.6 147 L820.6 152 L800.5 152" fill="#fff" stroke="#231f20" stroke-width="0.9"/>
<path d="M805 142.20000000000002 Q806.6 142.9 807 145.5 Q808 146.7 811 146.7 L820.6 146.7" fill="none" stroke="#231f20" stroke-width="1.3"/>
<path d="M800.5 150.8 L804.5 150.8 Q806 151.3 806.5 152.6 Q807.5 154.6 810.5 154.6 L820.6 154.6 L820.6 160.9 L800.5 160.9" fill="#fff" stroke="#231f20" stroke-width="0.9"/>
<path d="M805 151.10000000000002 Q806.6 151.8 807 153.1 Q808 154.29999999999998 811 154.29999999999998 L820.6 154.29999999999998" fill="none" stroke="#231f20" stroke-width="1.3"/>
<line x1="787.1" y1="96.3" x2="842.4" y2="96.3" stroke="#231f20" stroke-width="0.9"/>
<line x1="787.1" y1="190.4" x2="842.4" y2="190.4" stroke="#231f20" stroke-width="0.9"/>
<line x1="838.5" y1="96.3" x2="838.5" y2="190.4" stroke="#231f20" stroke-width="0.8"/>
<path d="M838.5 96.3 L836.9 102.3 L840.1 102.3 Z" fill="#231f20"/>
<path d="M838.5 190.4 L836.9 184.4 L840.1 184.4 Z" fill="#231f20"/>
<text transform="translate(836.8,142.9) rotate(-90)" x="0" y="0" font-size="11.3" fill="#231f20" text-anchor="middle" textLength="46.0" lengthAdjust="spacingAndGlyphs">M12*0.5</text>
<text x="2.5" y="243.3" font-size="14.6" fill="#231f20" font-weight="bold" text-anchor="start" textLength="38.8" lengthAdjust="spacingAndGlyphs" stroke="#231f20" stroke-width="0.6">RoHS</text>
<circle cx="61.7" cy="237.4" r="9.3" fill="#fff" stroke="#231f20" stroke-width="1.6"/>
<line x1="52.7" y1="238.2" x2="70.7" y2="238.2" stroke="#231f20" stroke-width="1.1"/>
<path d="M53.900000000000006 237.8 Q55.7 231 61.2 229.5 L62.2 237.8 Z" fill="url(#hatch)" stroke="#231f20" stroke-width="0.6"/>
<path d="M63.2 230.5 L63.2 237.8 M64.9 233 Q66.2 232 67.2 233.5 L67.2 237.8 M68.7 234 L69.2 237.8" stroke="#231f20" stroke-width="1.1" fill="none"/>
<text x="62.0" y="244.6" font-size="6.4" font-weight="bold" fill="#231f20" text-anchor="middle" textLength="11.5" lengthAdjust="spacingAndGlyphs" stroke="#231f20" stroke-width="0.3">IP67</text>
<text x="492.7" y="243.3" font-size="14.6" fill="#231f20" font-weight="bold" text-anchor="start" textLength="38.8" lengthAdjust="spacingAndGlyphs" stroke="#231f20" stroke-width="0.6">RoHS</text>
<circle cx="550.6" cy="237.4" r="9.3" fill="#fff" stroke="#231f20" stroke-width="1.6"/>
<line x1="541.6" y1="238.2" x2="559.6" y2="238.2" stroke="#231f20" stroke-width="1.1"/>
<path d="M542.8000000000001 237.8 Q544.6 231 550.1 229.5 L551.1 237.8 Z" fill="url(#hatch)" stroke="#231f20" stroke-width="0.6"/>
<path d="M552.1 230.5 L552.1 237.8 M553.8000000000001 233 Q555.1 232 556.1 233.5 L556.1 237.8 M557.6 234 L558.1 237.8" stroke="#231f20" stroke-width="1.1" fill="none"/>
<text x="550.9" y="244.6" font-size="6.4" font-weight="bold" fill="#231f20" text-anchor="middle" textLength="11.5" lengthAdjust="spacingAndGlyphs" stroke="#231f20" stroke-width="0.3">IP67</text>
</svg>
</body></html>
